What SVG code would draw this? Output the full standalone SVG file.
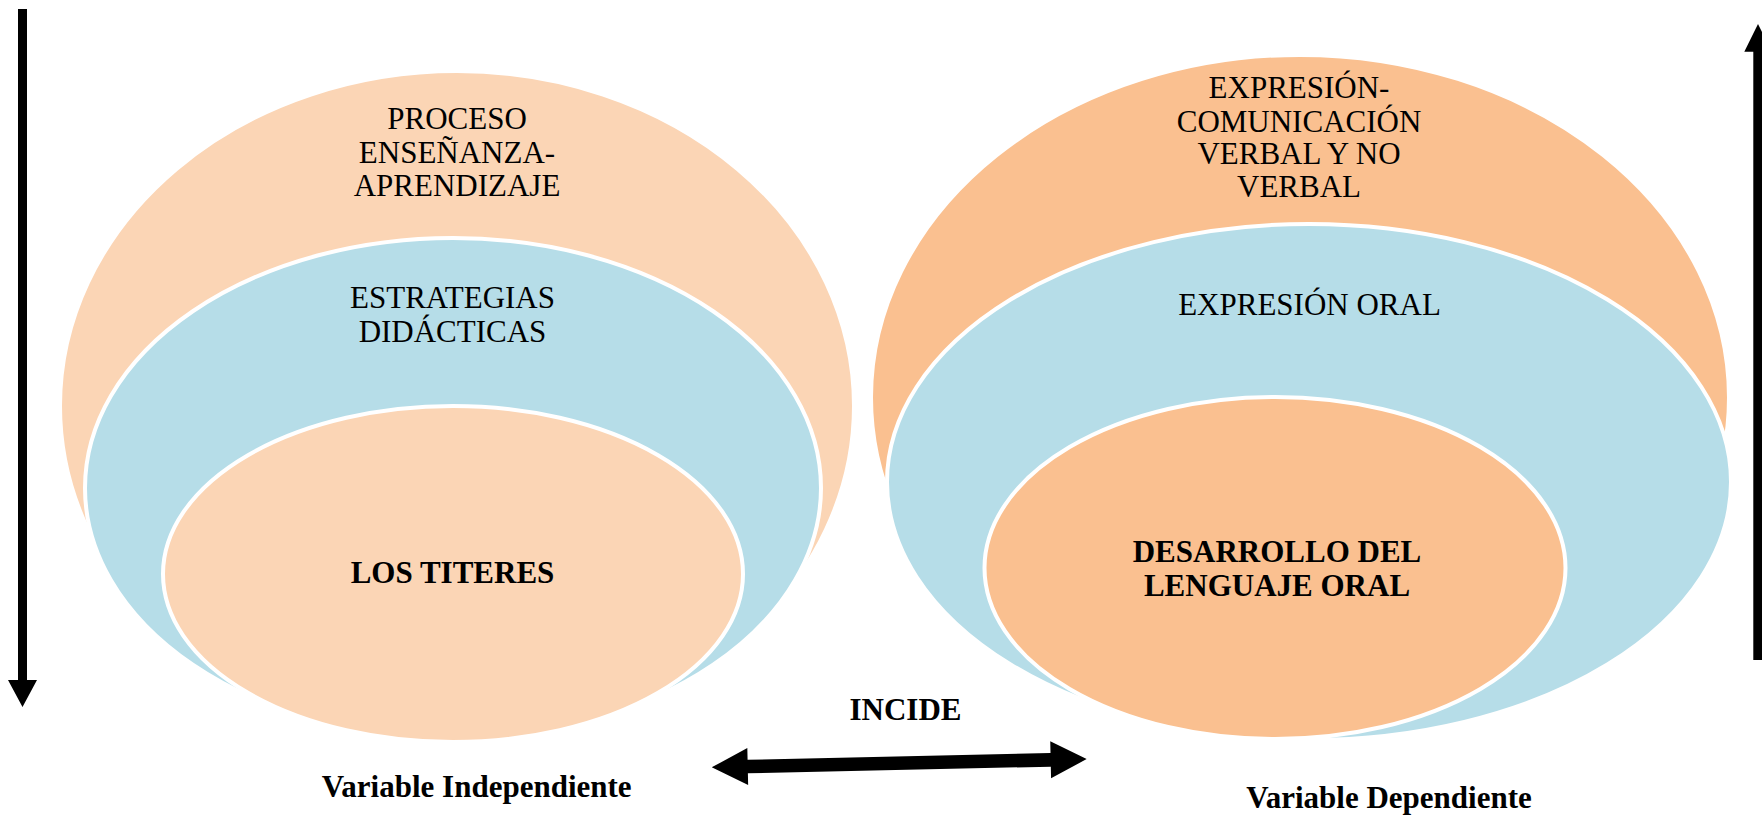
<svg xmlns="http://www.w3.org/2000/svg" width="1762" height="819" viewBox="0 0 1762 819">
<style>
.peach{fill:#FBD5B5;stroke:#FFFFFF;stroke-width:4}
.blue{fill:#B6DDE8;stroke:#FFFFFF;stroke-width:4}
.orange{fill:#FAC090;stroke:#FFFFFF;stroke-width:4}
.t{font-family:"Liberation Serif","Times New Roman",serif;font-size:31px;fill:#000;text-anchor:middle}
.b{font-weight:bold}
.arrow{fill:#000}
</style>
<rect width="1762" height="819" fill="#FFFFFF"/>
<g id="left-outer">
<ellipse class="peach" cx="457" cy="406" rx="397" ry="335"/>
<text class="t" x="457" y="129">PROCESO</text>
<text class="t" x="457" y="162.7">ENSEÑANZA-</text>
<text class="t" x="457" y="196">APRENDIZAJE</text>
</g>
<g id="left-middle">
<ellipse class="blue" cx="453" cy="488" rx="368" ry="250"/>
<text class="t" x="452.5" y="308">ESTRATEGIAS</text>
<text class="t" x="452.5" y="341.7">DIDÁCTICAS</text>
</g>
<g id="left-inner">
<ellipse class="peach" cx="453" cy="574" rx="290" ry="168"/>
<text class="t b" x="452.5" y="583.3">LOS TITERES</text>
</g>
<g id="right-outer">
<ellipse class="orange" cx="1300" cy="397.5" rx="429" ry="342.6"/>
<text class="t" x="1299" y="98.3">EXPRESIÓN-</text>
<text class="t" x="1299" y="131.7">COMUNICACIÓN</text>
<text class="t" x="1299" y="164.3">VERBAL Y NO</text>
<text class="t" x="1299" y="197.3">VERBAL</text>
</g>
<g id="right-middle">
<ellipse class="blue" cx="1309" cy="482" rx="422" ry="258"/>
<text class="t" x="1309.5" y="315">EXPRESIÓN ORAL</text>
</g>
<g id="right-inner">
<ellipse class="orange" cx="1275" cy="568" rx="290.5" ry="171"/>
<text class="t b" x="1277" y="561.5">DESARROLLO DEL</text>
<text class="t b" x="1277" y="595.5">LENGUAJE ORAL</text>
</g>
<g id="labels">
<text class="t b" x="476.7" y="796.7">Variable Independiente</text>
<text class="t b" x="1389" y="808">Variable Dependiente</text>
<text class="t b" x="905.5" y="720">INCIDE</text>
</g>
<g id="connectors">
<polygon class="arrow" points="18,9 27,9 27,680 37,680 22.5,707 8,680 18,680"/>
<polygon class="arrow" points="1753.3,660 1762.3,660 1762.3,51.7 1772,51.7 1758,24 1744.3,51.7 1753.3,51.7"/>
<g transform="translate(899.2,763.2) rotate(-1.27)">
<polygon class="arrow" points="-187.5,0 -151.5,-18.5 -151.5,-6.8 151.5,-6.8 151.5,-18.5 187.5,0 151.5,18.5 151.5,6.8 -151.5,6.8 -151.5,18.5"/>
</g>
</g>
</svg>
